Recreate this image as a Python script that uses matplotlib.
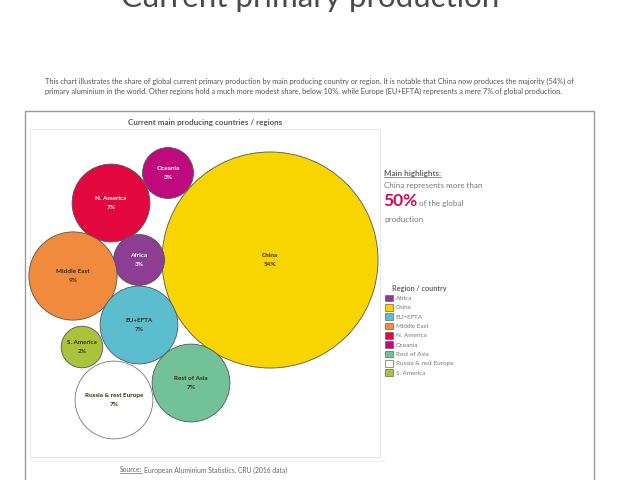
import matplotlib.pyplot as plt
from matplotlib.patches import Circle, Rectangle, Patch
import numpy as np

# bubble data (share of global primary production, %)
regions = ['China', 'Oceania', 'N. America', 'Africa', 'Middle East',
           'EU+EFTA', 'S. America', 'Rest of Asia', 'Russia & rest Europe']
share = [54, 3, 7, 3, 9, 7, 2, 7, 7]
bubble_x = [270, 168, 111, 139, 73, 139, 82, 191, 114]
bubble_y = [260, 173, 203, 260, 276, 325, 347, 383, 400]
colors = {'Africa': '#8d3d92', 'China': '#f9d500', 'EU+EFTA': '#5cbdcf',
          'Middle East': '#f08a3c', 'N. America': '#e2073f', 'Oceania': '#bf0a7d',
          'Rest of Asia': '#72c199', 'Russia & rest Europe': '#ffffff',
          'S. America': '#aac23c'}
white_text = ['Oceania', 'N. America', 'Africa']
legend_order = ['Africa', 'China', 'EU+EFTA', 'Middle East', 'N. America',
                'Oceania', 'Rest of Asia', 'Russia & rest Europe', 'S. America']

plt.rcParams['font.family'] = ['Lato', 'DejaVu Sans']

fig = plt.figure(figsize=(6.2, 4.8), dpi=100)
ax = fig.add_axes([0, 0, 1, 1])
ax.set_xlim(0, 620)
ax.set_ylim(480, 0)
ax.axis('off')

# page title (cut off at the top)
ax.text(310, 7, 'Current primary production', ha='center', va='baseline',
        fontsize=22.5, color='#4a4a4a')

para = ('This chart illustrates the share of global current primary production by main producing '
        'country or region. It is notable that China now produces the majority (54%) of\n'
        'primary aluminium in the world. Other regions hold a much more modest share, below 10%, '
        'while Europe (EU+EFTA) represents a mere 7% of global production.')
ax.text(45, 86, para, ha='left', va='center', fontsize=5.3, color='#555555', linespacing=1.45)

# boxes
ax.add_patch(Rectangle((25, 111), 569, 400, fill=False, ec='#9a9a9a', lw=1.0))
ax.add_patch(Rectangle((30, 129), 350, 328, fill=False, ec='#e2e2e2', lw=0.6))
ax.plot([30, 385], [461, 461], color='#ececec', lw=0.6)

ax.text(205, 122, 'Current main producing countries / regions', ha='center', va='center',
        fontsize=5.8, color='#555555', fontweight='bold')

# bubbles: area proportional to share
k = 14.7
for name, v, x, y in zip(regions, share, bubble_x, bubble_y):
    r = k * np.sqrt(v)
    ec = '#777777' if name == 'Russia & rest Europe' else '#555555'
    ax.add_patch(Circle((x, y), r, fc=colors[name], ec=ec, lw=0.6))
    tc = 'white' if name in white_text else '#3a2a10'
    ax.text(x, y, name + '\n' + str(v) + '%', ha='center', va='center', fontsize=4.6,
            fontweight='bold', color=tc, linespacing=1.9)

# highlights
fig.canvas.draw()
rend = fig.canvas.get_renderer()
inv = ax.transData.inverted()

def underline(t):
    bb = t.get_window_extent(rend)
    (x0, y0), (x1, y1) = inv.transform([[bb.x0, bb.y0], [bb.x1, bb.y1]])
    ax.plot([x0, x1], [y0 - 0.3, y0 - 0.3], color=t.get_color(), lw=0.5)
    return x1

t = ax.text(384, 176, 'Main highlights:', fontsize=5.8, fontweight='bold', color='#666666',
            va='baseline')
underline(t)
ax.text(384, 188, 'China represents more than', fontsize=5.8, color='#777777', va='baseline')
t50 = ax.text(383, 206, '50%', fontsize=12.5, fontweight='bold', color='#d5094f', va='baseline')
bb = t50.get_window_extent(rend)
xe = inv.transform([[bb.x1, bb.y0]])[0][0]
ax.text(xe + 2, 206, 'of the global', fontsize=5.8, color='#777777', va='baseline')
ax.text(384, 222, 'production', fontsize=5.8, color='#777777', va='baseline')

# legend
handles = [Patch(fc=colors[n], ec='#666666', lw=0.5, label=n) for n in legend_order]
leg = fig.legend(handles=handles, loc='upper left', bbox_to_anchor=(382 / 620, 1 - 282 / 480),
                 frameon=False, fontsize=4.5, title='Region / country',
                 title_fontproperties={'size': 5.2, 'weight': 'bold'},
                 handlelength=1.3, handleheight=1.3, handletextpad=0.4,
                 labelspacing=0.4, borderpad=0, labelcolor='#777777')
leg.get_title().set_color('#666666')

# source
ts = ax.text(120, 470, 'Source:', fontsize=4.9, color='#666666', va='center')
xs = underline(ts)
ax.text(xs + 1.5, 470, 'European Aluminium Statistics, CRU (2016 data)', fontsize=4.9,
        color='#666666', va='center')

fig.savefig('out.png', dpi=100)
